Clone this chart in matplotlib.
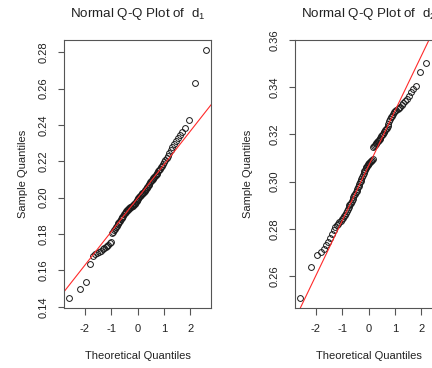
import numpy as np
import matplotlib
matplotlib.use("Agg")
import matplotlib.pyplot as plt
from matplotlib.ticker import FormatStrFormatter
from statistics import NormalDist

plt.rcParams['font.family'] = ['Liberation Sans', 'DejaVu Sans']
plt.rcParams['mathtext.fontset'] = 'custom'
plt.rcParams['mathtext.rm'] = 'Liberation Sans'
plt.rcParams['mathtext.it'] = 'Liberation Sans'
plt.rcParams['axes.unicode_minus'] = False

# ---- data: sorted sample values ----
d1 = [0.1448, 0.1497, 0.1536, 0.1633, 0.1680, 0.1690, 0.1697, 0.1703, 0.1709, 0.1716,
      0.1722, 0.1728, 0.1735, 0.1742, 0.1750, 0.1758, 0.1805, 0.1812, 0.1822, 0.1830,
      0.1838, 0.1846, 0.1853, 0.1860, 0.1867, 0.1874, 0.1881, 0.1888, 0.1895, 0.1902,
      0.1910, 0.1917, 0.1923, 0.1928, 0.1932, 0.1935, 0.1938, 0.1941, 0.1944, 0.1947,
      0.1950, 0.1953, 0.1956, 0.1960, 0.1964, 0.1968, 0.1973, 0.1978, 0.1983, 0.1988,
      0.1993, 0.1998, 0.2003, 0.2008, 0.2012, 0.2016, 0.2020, 0.2024, 0.2028, 0.2033,
      0.2038, 0.2043, 0.2048, 0.2054, 0.2060, 0.2066, 0.2072, 0.2078, 0.2084, 0.2090,
      0.2096, 0.2102, 0.2108, 0.2114, 0.2120, 0.2126, 0.2132, 0.2138, 0.2145, 0.2152,
      0.2160, 0.2168, 0.2177, 0.2186, 0.2196, 0.2207, 0.2218, 0.2230, 0.2244, 0.2262,
      0.2280, 0.2296, 0.2312, 0.2328, 0.2345, 0.2362, 0.2385, 0.2426, 0.2633, 0.2813]

d2 = [0.2506, 0.2636, 0.2690, 0.2702, 0.2712, 0.2730, 0.2742, 0.2760, 0.2778, 0.2795,
      0.2806, 0.2815, 0.2822, 0.2828, 0.2834, 0.2840, 0.2846, 0.2853, 0.2860, 0.2867,
      0.2875, 0.2883, 0.2891, 0.2899, 0.2905, 0.2910, 0.2918, 0.2926, 0.2934, 0.2941,
      0.2948, 0.2955, 0.2962, 0.2969, 0.2976, 0.2983, 0.2990, 0.2997, 0.3004, 0.3012,
      0.3020, 0.3028, 0.3036, 0.3044, 0.3050, 0.3056, 0.3061, 0.3066, 0.3070, 0.3074,
      0.3077, 0.3080, 0.3083, 0.3086, 0.3089, 0.3092, 0.3095, 0.3146, 0.3150, 0.3154,
      0.3158, 0.3162, 0.3166, 0.3170, 0.3174, 0.3178, 0.3182, 0.3186, 0.3192, 0.3196,
      0.3202, 0.3208, 0.3212, 0.3217, 0.3222, 0.3228, 0.3235, 0.3243, 0.3256, 0.3264,
      0.3272, 0.3280, 0.3287, 0.3293, 0.3298, 0.3303, 0.3308, 0.3313, 0.3318, 0.3325,
      0.3333, 0.3342, 0.3352, 0.3364, 0.3378, 0.3392, 0.3404, 0.3465, 0.3502, 0.3558]

titles = ["Normal Q-Q Plot of  $\\mathrm{d}_1$", "Normal Q-Q Plot of  $\\mathrm{d}_2$"]
x_ticks = [-2, -1, 0, 1, 2]
y_ticks = [[0.14, 0.16, 0.18, 0.20, 0.22, 0.24, 0.26, 0.28],
           [0.26, 0.28, 0.30, 0.32, 0.34, 0.36]]
xlabel = "Theoretical Quantiles"
ylabel = "Sample Quantiles"

nd = NormalDist()

def qq(sample):
    y = np.sort(np.asarray(sample))
    n = len(y)
    p = (np.arange(1, n + 1) - 0.5) / n
    x = np.array([nd.inv_cdf(v) for v in p])
    q1, q3 = np.quantile(y, [0.25, 0.75])
    x1, x3 = nd.inv_cdf(0.25), nd.inv_cdf(0.75)
    slope = (q3 - q1) / (x3 - x1)
    inter = q1 - slope * x1
    return x, y, slope, inter

W, H = 432, 368
fig = plt.figure(figsize=(W / 100, H / 100), dpi=100)

boxes = [(64, 40, 147, 268), (295, 40, 147, 268)]  # left, top, width, height in px
ylab_right_edge = [28, 253]  # px position of the y-label's right edge
text_col = '#222222'
frame_col = '#555555'

for k, data in enumerate([d1, d2]):
    l, t, w, h = boxes[k]
    ax = fig.add_axes([l / W, (H - t - h) / H, w / W, h / H])
    x, y, slope, inter = qq(data)
    ax.plot(x, y, linestyle='none', marker='o', markersize=4.2, mfc='none',
            mec='#1a1a1a', mew=0.7)
    ax.axline((0, inter), slope=slope, color='#ff2a2a', lw=0.8)
    xr = x.max() - x.min()
    yr = y.max() - y.min()
    ax.set_xlim(x.min() - 0.04 * xr, x.max() + 0.04 * xr)
    ax.set_ylim(y.min() - 0.04 * yr, y.max() + 0.04 * yr)
    ax.set_xticks(x_ticks)
    ax.set_yticks(y_ticks[k])
    ax.yaxis.set_major_formatter(FormatStrFormatter('%.2f'))
    ax.tick_params(axis='both', direction='out', length=6.5 * 0.72, width=0.8,
                   color=frame_col, labelsize=8, labelcolor=text_col, pad=6.5)
    ax.tick_params(axis='y', labelrotation=90)
    for lbl in ax.get_yticklabels():
        lbl.set_va('center')
    for s in ax.spines.values():
        s.set_color(frame_col)
        s.set_linewidth(0.8)
    ax.set_title(titles[k], fontsize=9.6, color=text_col, pad=16.5)
    ax.set_xlabel(xlabel, fontsize=8, color=text_col)
    ax.set_ylabel(ylabel, fontsize=8, color=text_col)
    ax.xaxis.set_label_coords(0.5, -(351 - 308) / h)
    ax.yaxis.set_label_coords(-(l - ylab_right_edge[k]) / w, 0.5)

fig.savefig("out.png", dpi=100)
